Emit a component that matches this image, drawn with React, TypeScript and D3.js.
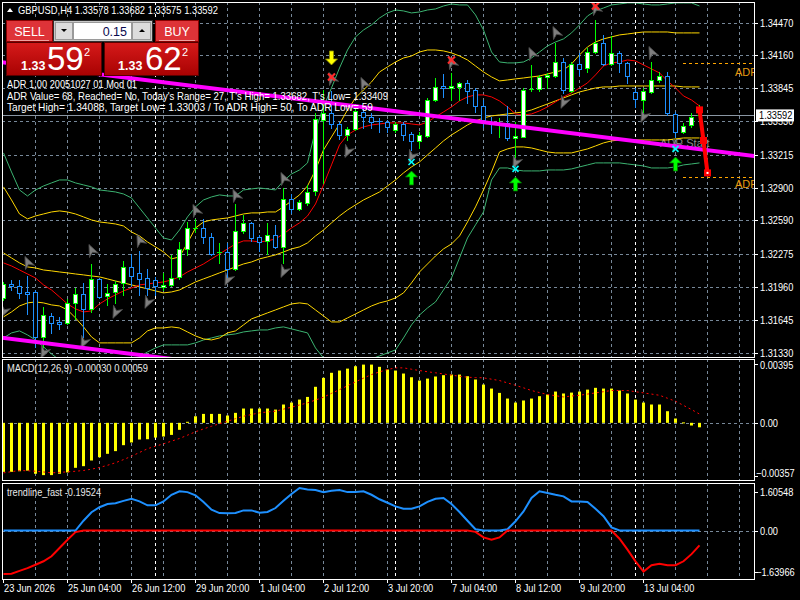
import React from 'react';
import * as d3 from 'd3';

// ---------- data (GBPUSD H4) ----------
const timeLabels = ['23 Jun 2026', '25 Jun 04:00', '26 Jun 12:00', '29 Jun 20:00', '1 Jul 04:00', '2 Jul 12:00',
  '3 Jul 20:00', '7 Jul 04:00', '8 Jul 12:00', '9 Jul 20:00', '13 Jul 04:00'];
const weekStartBars = [19, 49, 79];
const priceTicks = [1.3447, 1.3416, 1.33845, 1.3353, 1.33215, 1.329, 1.3259, 1.32275, 1.3196, 1.31645, 1.3133];
const macdTicks = [0.00395, 0, -0.00357];
const trendTicks = [1.60548, 0, -1.63966];

const opens = [1.31853,1.31986,1.31967,1.31910,1.31910,1.31482,1.31682,1.31625,1.31615,1.31805,
  1.31891,1.31748,1.32033,1.31872,1.31910,1.31995,1.32147,1.32090,1.32043,1.32024,
  1.31960,1.31976,1.32052,1.32318,1.32510,1.32518,1.32432,1.32276,1.32290,1.32128,
  1.32489,1.32565,1.32432,1.32394,1.32451,1.32337,1.32793,1.32698,1.32755,1.32869,
  1.33544,1.33610,1.33506,1.33401,1.33458,1.33620,1.33572,1.33530,1.33525,1.33449,
  1.33506,1.33411,1.33344,1.33392,1.33734,1.33862,1.33852,1.33857,1.33895,1.33829,
  1.33677,1.33525,1.33501,1.33515,1.33373,1.33382,1.33824,1.33838,1.33952,1.33962,
  1.34095,1.33819,1.34076,1.34038,1.34190,1.34275,1.34076,1.34180,1.34085,1.33810,
  1.33734,1.33810,1.33924,1.33962,1.33601,1.33430,1.33496,1.33578];
const highs = [1.32005,1.32024,1.32024,1.32062,1.31929,1.31767,1.31710,1.31672,1.31843,1.31948,
  1.31995,1.32176,1.32043,1.31986,1.32014,1.32204,1.32271,1.32299,1.32128,1.32052,
  1.32090,1.32261,1.32385,1.32575,1.32603,1.32603,1.32470,1.32375,1.32375,1.32746,
  1.32641,1.32575,1.32451,1.32565,1.32546,1.32898,1.32841,1.32784,1.32926,1.33610,
  1.33829,1.33819,1.33525,1.33477,1.33667,1.33658,1.33610,1.33563,1.33544,1.33525,
  1.33525,1.33430,1.33430,1.33753,1.33943,1.33981,1.33990,1.33905,1.33924,1.33848,
  1.33734,1.33572,1.33563,1.33677,1.33525,1.33848,1.34066,1.33971,1.33990,1.34275,
  1.34133,1.34095,1.34180,1.34228,1.34494,1.34351,1.34342,1.34199,1.34095,1.33848,
  1.33848,1.34095,1.34000,1.34000,1.33620,1.33515,1.33610,1.33682];
const lows = [1.31834,1.31929,1.31853,1.31701,1.31387,1.31387,1.31520,1.31558,1.31606,1.31653,
  1.31482,1.31720,1.31853,1.31786,1.31805,1.31881,1.31976,1.31881,1.31881,1.31881,
  1.31929,1.31967,1.32033,1.32261,1.32480,1.32375,1.32261,1.32185,1.32052,1.32119,
  1.32470,1.32394,1.32299,1.32271,1.32328,1.32185,1.32660,1.32689,1.32736,1.32831,
  1.32945,1.33468,1.33363,1.33354,1.33449,1.33468,1.33468,1.33430,1.33430,1.33430,
  1.33354,1.33259,1.33278,1.33382,1.33724,1.33762,1.33734,1.33734,1.33705,1.33620,
  1.33477,1.33420,1.33382,1.33354,1.33192,1.33378,1.33819,1.33819,1.33848,1.33952,
  1.33800,1.33810,1.33971,1.34000,1.34180,1.34066,1.34066,1.34000,1.33895,1.33667,
  1.33620,1.33800,1.33905,1.33591,1.33382,1.33420,1.33477,1.33575];
const closes = [1.31986,1.31967,1.31900,1.31891,1.31482,1.31691,1.31615,1.31606,1.31805,1.31891,
  1.31748,1.32033,1.31862,1.31900,1.31986,1.32147,1.32062,1.32033,1.31948,1.31967,
  1.31972,1.32043,1.32318,1.32518,1.32520,1.32432,1.32271,1.32286,1.32128,1.32489,
  1.32565,1.32423,1.32385,1.32451,1.32337,1.32793,1.32698,1.32765,1.32860,1.33553,
  1.33610,1.33506,1.33401,1.33458,1.33629,1.33572,1.33525,1.33520,1.33477,1.33506,
  1.33401,1.33344,1.33401,1.33734,1.33857,1.33852,1.33862,1.33895,1.33819,1.33677,
  1.33544,1.33506,1.33511,1.33373,1.33392,1.33829,1.33834,1.33952,1.33971,1.34095,
  1.33829,1.34076,1.34028,1.34190,1.34275,1.34076,1.34180,1.34085,1.33962,1.33743,
  1.33819,1.33924,1.33962,1.33610,1.33430,1.33487,1.33572,1.33592];

const fastMa = [1.32186,1.32157,1.32119,1.32081,1.32043,1.31977,1.31929,1.31863,1.31796,1.31749,
  1.31720,1.31730,1.31796,1.31844,1.31882,1.31920,1.31948,1.31977,1.31986,1.31996,
  1.32005,1.32024,1.32053,1.32100,1.32138,1.32176,1.32224,1.32271,1.32319,1.32366,
  1.32395,1.32395,1.32385,1.32395,1.32414,1.32461,1.32518,1.32566,1.32632,1.32746,
  1.32927,1.33117,1.33307,1.33402,1.33449,1.33478,1.33497,1.33506,1.33516,1.33516,
  1.33516,1.33506,1.33497,1.33525,1.33573,1.33620,1.33668,1.33725,1.33763,1.33782,
  1.33782,1.33763,1.33725,1.33668,1.33601,1.33592,1.33601,1.33630,1.33668,1.33715,
  1.33763,1.33801,1.33848,1.33896,1.33972,1.34057,1.34086,1.34095,1.34114,1.34105,
  1.34067,1.34029,1.33991,1.33915,1.33848,1.33772,1.33734,1.33677];
const slowMa = [1.32281,1.32233,1.32186,1.32148,1.32138,1.32119,1.32110,1.32100,1.32091,1.32081,
  1.32072,1.32062,1.32053,1.32034,1.32014,1.31996,1.31977,1.31958,1.31939,1.31920,
  1.31901,1.31910,1.31929,1.31967,1.32005,1.32034,1.32062,1.32091,1.32119,1.32148,
  1.32176,1.32195,1.32224,1.32243,1.32262,1.32290,1.32319,1.32338,1.32376,1.32442,
  1.32499,1.32566,1.32632,1.32689,1.32737,1.32784,1.32822,1.32860,1.32917,1.32974,
  1.33041,1.33098,1.33145,1.33212,1.33278,1.33345,1.33402,1.33449,1.33497,1.33535,
  1.33563,1.33582,1.33592,1.33601,1.33611,1.33620,1.33639,1.33668,1.33696,1.33725,
  1.33753,1.33782,1.33810,1.33829,1.33848,1.33858,1.33858,1.33867,1.33867,1.33867,
  1.33867,1.33867,1.33867,1.33867,1.33867,1.33858,1.33858,1.33858];
const yellowUpper = [1.32908,1.32784,1.32651,1.32604,1.32632,1.32651,1.32670,1.32680,1.32670,1.32651,
  1.32623,1.32594,1.32575,1.32566,1.32556,1.32537,1.32480,1.32442,1.32385,1.32338,
  1.32290,1.32224,1.32243,1.32376,1.32518,1.32575,1.32594,1.32604,1.32613,1.32632,
  1.32651,1.32661,1.32661,1.32670,1.32670,1.32718,1.32775,1.32832,1.32917,1.33069,
  1.33259,1.33383,1.33506,1.33639,1.33753,1.33829,1.33905,1.34000,1.34048,1.34095,
  1.34133,1.34152,1.34190,1.34209,1.34209,1.34200,1.34181,1.34152,1.34114,1.34057,
  1.34000,1.33953,1.33915,1.33924,1.33934,1.33943,1.33953,1.33962,1.33981,1.34000,
  1.34019,1.34076,1.34162,1.34238,1.34285,1.34314,1.34333,1.34352,1.34361,1.34371,
  1.34380,1.34380,1.34380,1.34380,1.34371,1.34371,1.34371,1.34371];
const yellowLower = [1.31673,1.31720,1.31777,1.31806,1.31815,1.31806,1.31787,1.31777,1.31739,1.31663,
  1.31578,1.31483,1.31426,1.31426,1.31426,1.31426,1.31426,1.31473,1.31540,1.31568,
  1.31568,1.31578,1.31568,1.31530,1.31492,1.31464,1.31454,1.31473,1.31521,1.31540,
  1.31597,1.31654,1.31682,1.31711,1.31739,1.31768,1.31796,1.31806,1.31796,1.31739,
  1.31682,1.31625,1.31625,1.31663,1.31701,1.31739,1.31777,1.31806,1.31825,1.31853,
  1.31901,1.31996,1.32100,1.32176,1.32252,1.32319,1.32366,1.32442,1.32575,1.32718,
  1.32879,1.33050,1.33240,1.33269,1.33288,1.33288,1.33278,1.33259,1.33240,1.33231,
  1.33231,1.33231,1.33250,1.33269,1.33297,1.33326,1.33345,1.33354,1.33354,1.33354,
  1.33354,1.33354,1.33354,1.33354,1.33364,1.33373,1.33373,1.33373];
const greenUpper = [1.33231,1.33050,1.32879,1.32822,1.32879,1.32917,1.32946,1.32974,1.32974,1.32946,
  1.32927,1.32908,1.32879,1.32870,1.32860,1.32841,1.32803,1.32708,1.32613,1.32518,
  1.32423,1.32404,1.32499,1.32623,1.32718,1.32784,1.32813,1.32832,1.32822,1.32822,
  1.32879,1.32889,1.32898,1.32889,1.32879,1.32965,1.33031,1.33069,1.33136,1.33449,
  1.33668,1.33848,1.34038,1.34209,1.34333,1.34399,1.34447,1.34513,1.34561,1.34589,
  1.34580,1.34561,1.34570,1.34589,1.34599,1.34627,1.34646,1.34637,1.34637,1.34542,
  1.34399,1.34190,1.34095,1.34086,1.34086,1.34095,1.34133,1.34190,1.34247,1.34285,
  1.34314,1.34371,1.34447,1.34532,1.34580,1.34608,1.34637,1.34646,1.34656,1.34656,
  1.34646,1.34637,1.34637,1.34646,1.34656,1.34656,1.34656,1.34627];
const greenLower = [1.31473,1.31521,1.31540,1.31502,1.31454,1.31388,1.31321,1.31264,1.31207,1.31169,
  1.31141,1.31122,1.31112,1.31122,1.31150,1.31198,1.31245,1.31293,1.31340,1.31378,
  1.31407,1.31407,1.31407,1.31407,1.31426,1.31454,1.31473,1.31492,1.31502,1.31511,
  1.31530,1.31540,1.31549,1.31549,1.31568,1.31578,1.31559,1.31540,1.31521,1.31378,
  1.31283,1.31236,1.31226,1.31217,1.31226,1.31245,1.31274,1.31302,1.31331,1.31359,
  1.31473,1.31597,1.31691,1.31758,1.31815,1.31929,1.32043,1.32233,1.32423,1.32547,
  1.32670,1.32974,1.33088,1.33088,1.33069,1.33060,1.33060,1.33060,1.33069,1.33069,
  1.33069,1.33079,1.33098,1.33117,1.33136,1.33136,1.33136,1.33136,1.33126,1.33117,
  1.33107,1.33088,1.33088,1.33088,1.33098,1.33117,1.33126,1.33136];

const macdHist = [-0.00329,-0.00329,-0.00325,-0.00321,-0.00342,-0.00351,-0.00351,-0.00342,-0.00333,-0.00302,
  -0.00291,-0.00253,-0.00231,-0.00208,-0.00190,-0.00150,-0.00132,-0.00112,-0.00110,-0.00099,
  -0.00092,-0.00081,-0.00047,0.00007,0.00044,0.00060,0.00060,0.00060,0.00049,0.00067,
  0.00096,0.00096,0.00096,0.00096,0.00089,0.00123,0.00136,0.00156,0.00174,0.00242,
  0.00302,0.00336,0.00351,0.00364,0.00380,0.00391,0.00391,0.00376,0.00358,0.00351,
  0.00331,0.00306,0.00284,0.00297,0.00311,0.00320,0.00324,0.00324,0.00313,0.00291,
  0.00257,0.00230,0.00201,0.00163,0.00136,0.00150,0.00163,0.00179,0.00190,0.00210,
  0.00197,0.00203,0.00210,0.00223,0.00235,0.00230,0.00230,0.00217,0.00197,0.00156,
  0.00136,0.00123,0.00123,0.00078,0.00029,0.00003,-0.00018,-0.00030];
const macdSignal = [-0.00336,-0.00328,-0.00320,-0.00322,-0.00325,-0.00330,-0.00336,-0.00333,-0.00329,-0.00325,
  -0.00320,-0.00311,-0.00300,-0.00285,-0.00268,-0.00247,-0.00224,-0.00199,-0.00174,-0.00157,
  -0.00141,-0.00123,-0.00105,-0.00083,-0.00060,-0.00041,-0.00023,-0.00006,0.00011,0.00028,
  0.00044,0.00056,0.00067,0.00073,0.00078,0.00092,0.00105,0.00120,0.00134,0.00153,
  0.00172,0.00198,0.00223,0.00249,0.00275,0.00300,0.00324,0.00342,0.00358,0.00369,
  0.00369,0.00360,0.00351,0.00343,0.00336,0.00328,0.00320,0.00313,0.00306,0.00304,
  0.00302,0.00293,0.00284,0.00268,0.00252,0.00235,0.00217,0.00203,0.00190,0.00182,
  0.00174,0.00180,0.00185,0.00193,0.00201,0.00209,0.00217,0.00217,0.00217,0.00209,
  0.00201,0.00193,0.00185,0.00165,0.00145,0.00117,0.00089,0.00059];

const trendUp = [0,0,0,0,0,0,0,0,0,0,
  0.37,0.69,0.88,1.00,1.03,1.12,1.20,1.10,0.95,0.95,
  1.10,1.35,1.48,1.45,1.33,1.08,0.79,0.66,0.65,0.66,
  0.76,0.76,0.67,0.70,0.85,1.12,1.38,1.60548,1.55,1.53,
  1.45,1.50,1.53,1.45,1.45,1.48,1.35,1.18,1.05,0.91,
  0.82,0.82,0.91,1.08,1.20,1.23,1.00,0.70,0.37,0.05,
  0,0,0,0.05,0.35,0.72,1.23,1.48,1.42,1.35,
  1.29,1.10,1.10,1.08,0.82,0.54,0.12,0,0,0,
  0,0,0,0,0,0,0,0];
const trendDown = [-1.63966,-1.63,-1.52,-1.42,-1.29,-1.16,-0.97,-0.66,-0.35,-0.06,
  0,0,0,0,0,0,0,0,0,0,
  0,0,0,0,0,0,0,0,0,0,
  0,0,0,0,0,0,0,0,0,0,
  0,0,0,0,0,0,0,0,0,0,
  0,0,0,0,0,0,0,0,0,-0.05,
  -0.26,-0.35,-0.26,0,0,0,0,0,0,0,
  0,0,0,0,0,0,0,-0.31,-0.72,-1.16,
  -1.55,-1.31,-1.25,-1.31,-1.31,-1.16,-0.89,-0.56];

// signal markers: [bar, price]
const fractalUp = [[3, 1.32195], [11, 1.32309], [17, 1.32404], [24, 1.32689], [29, 1.32832], [35, 1.32993],
  [41, 1.33943], [45, 1.33896], [56, 1.34095], [66, 1.34180], [69, 1.34380], [74, 1.34608], [81, 1.34190]];
const fractalDown = [[0, 1.31720], [5, 1.31331], [10, 1.31426], [14, 1.31711], [18, 1.31806], [28, 1.32024],
  [35, 1.32100], [43, 1.33240], [51, 1.33193], [64, 1.33136], [70, 1.33706], [80, 1.33573], [84, 1.33288]];
const sellCrosses = [[41, 1.33953], [56, 1.34114], [74, 1.34627]];
const sellArrows = [[41, 1.34133]];
const buyCrosses = [[51, 1.33145], [64, 1.33079], [84, 1.33269]];
const buyArrows = [[51, 1.32993], [64, 1.32936], [84, 1.33126]];

const channelTop = [[0, 1.34091], [87, 1.33267]];
const channelBottom = [[0, 1.31473], [18, 1.31302]];
const adrTargets = [1.34088, 1.33003];
const adrPath = [[87, 1.33640], [87.5, 1.33349], [88, 1.33041]];
const bidPrice = 1.33592;

const infoLines = ['ADR 1,00 20051027 01 Mod 01',
  "ADR Value= 68, Reached= No, Today's Range= 27, T's High= 1.33682, T's Low= 1.33409",
  'Target High= 1.34088, Target Low= 1.33003 / To ADR High= 50, To ADR Low= 59'];

// ---------- layout ----------
const FONT = '"Liberation Sans", Arial, sans-serif';
const L = 2, R = 754;
const mainP = { top: 2, bottom: 357 };
const macdP = { top: 359, bottom: 480 };
const trendP = { top: 483, bottom: 579 };
const GRID = '#778899';

const xs = d3.scaleLinear().domain([0, 87]).range([3.5, 699.5]);
const yP = d3.scaleLinear().domain([1.3133, 1.3447]).range([353, 22.5]);
const yM = d3.scaleLinear().domain([-0.00357, 0.00395]).range([476, 364]);
const yT = d3.scaleLinear().domain([-1.63966, 1.60548]).range([574, 488]);

function Txt({ x, y, children, size = 10.5, fill = '#fff', anchor = 'start', sx = 0.88, len }: any) {
  return (
    <text transform={`translate(${x},${y}) scale(${sx},1)`} fontSize={size} fill={fill}
      textAnchor={anchor} fontFamily={FONT} textLength={len} lengthAdjust={len ? 'spacingAndGlyphs' : undefined}>
      {children}
    </text>
  );
}

const linePath = (vals: number[], y: any) =>
  d3.line<number>().x((_, i) => xs(i)).y((d) => y(d))(vals) || '';

function VGrid({ top, bottom }: { top: number; bottom: number }) {
  return (
    <g>
      {d3.range(4, 93, 4).map((b) => (
        <line key={b} x1={xs(b)} x2={xs(b)} y1={top} y2={bottom} stroke={GRID} strokeDasharray="3,3" />
      ))}
      {weekStartBars.map((b) => (
        <line key={'w' + b} x1={xs(b)} x2={xs(b)} y1={top} y2={bottom} stroke="#fff" strokeDasharray="3,3" />
      ))}
    </g>
  );
}

export default function App() {
  const tickFmt = d3.format('.5f');
  const arrowUp = 'M0,-7 L6,-1 L2,-1 L2,7 L-2,7 L-2,-1 L-6,-1 Z';
  const chevUp = 'M0,-6 L5,6 L0,2.5 L-5,6 Z';
  const chevDown = 'M0,6 L5,-6 L0,-2.5 L-5,-6 Z';
  const chanLine = (pts: number[][], x0: number, x1: number) => {
    const s = (pts[1][1] - pts[0][1]) / (pts[1][0] - pts[0][0]);
    return { x1: xs(x0), y1: yP(pts[0][1] + s * (x0 - pts[0][0])), x2: xs(x1), y2: yP(pts[0][1] + s * (x1 - pts[0][0])) };
  };
  const ct = chanLine(channelTop, -1, 95);
  const cb = chanLine(channelBottom, -1, 40);

  return (
    <svg width={800} height={600} style={{ position: 'absolute', left: 0, top: 0, background: '#000' }}>
      <defs>
        <clipPath id="cMain"><rect x={L} y={mainP.top} width={R - L} height={mainP.bottom - mainP.top} /></clipPath>
        <clipPath id="cMacd"><rect x={L} y={macdP.top} width={R - L} height={macdP.bottom - macdP.top} /></clipPath>
        <clipPath id="cTrend"><rect x={L} y={trendP.top} width={R - L} height={trendP.bottom - trendP.top} /></clipPath>
        <linearGradient id="bigRed" x1="0" y1="0" x2="0" y2="1">
          <stop offset="0" stopColor="#d61a1a" />
          <stop offset="1" stopColor="#a80202" />
        </linearGradient>
      </defs>
      <rect width={800} height={600} fill="#000" />

      {/* ---------- main price panel ---------- */}
      <g clipPath="url(#cMain)">
        {priceTicks.map((p) => (
          <line key={p} x1={L} x2={R} y1={Math.round(yP(p)) + 0.5} y2={Math.round(yP(p)) + 0.5} stroke={GRID} strokeDasharray="3,3" />
        ))}
        <VGrid top={mainP.top} bottom={mainP.bottom} />

        <line x1={L} x2={R} y1={Math.round(yP(bidPrice)) + 0.5} y2={Math.round(yP(bidPrice)) + 0.5} stroke="#8a96a3" />

        <text x={660} y={147} fontSize={11} fill="#8c8c8c" fontFamily={FONT}>ADR Start</text>

        <g fill="none" strokeWidth={1}>
          <path d={linePath(greenUpper, yP)} stroke="#3cb371" />
          <path d={linePath(greenLower, yP)} stroke="#3cb371" />
          <path d={linePath(yellowUpper, yP)} stroke="#ffd700" />
          <path d={linePath(yellowLower, yP)} stroke="#ffd700" />
          <path d={linePath(slowMa, yP)} stroke="#ffd700" />
          <path d={linePath(fastMa, yP)} stroke="#ff0000" />
        </g>

        {adrTargets.map((p) => (
          <line key={p} x1={683} x2={R} y1={Math.round(yP(p)) + 0.5} y2={Math.round(yP(p)) + 0.5} stroke="#ffa500" strokeDasharray="3,3" />
        ))}
        {adrTargets.map((p, i) => (
          <text key={'t' + p} x={735} y={yP(p) + (i === 0 ? 13 : 11)} fontSize={11} fill="#e89a10" fontFamily={FONT}>ADR</text>
        ))}

        {fractalUp.map(([b, p]) => (
          <path key={'fu' + b} d={chevUp} transform={`translate(${xs(b)},${yP(p)}) rotate(-25)`} fill="#7f7f7f" stroke="#4d4d4d" strokeWidth={0.8} />
        ))}
        {fractalDown.map(([b, p]) => (
          <path key={'fd' + b} d={chevDown} transform={`translate(${xs(b)},${yP(p)}) rotate(25)`} fill="#7f7f7f" stroke="#4d4d4d" strokeWidth={0.8} />
        ))}

        {/* candles */}
        {opens.map((o, i) => {
          const c = closes[i];
          const bull = c >= o;
          const col = bull ? '#00ff00' : '#1e90ff';
          const x = xs(i);
          const yTop = Math.round(yP(Math.max(o, c)));
          const yBot = Math.round(yP(Math.min(o, c)));
          return (
            <g key={i}>
              <line x1={x} x2={x} y1={Math.round(yP(highs[i]))} y2={Math.round(yP(lows[i])) + 1} stroke={col} />
              {yBot - yTop < 2 ? (
                <line x1={x - 2.5} x2={x + 2.5} y1={yTop + 0.5} y2={yTop + 0.5} stroke={col} />
              ) : (
                <rect x={x - 2} y={yTop + 0.5} width={4} height={yBot - yTop} fill={bull ? '#fff' : '#000'} stroke={col} />
              )}
            </g>
          );
        })}

        <line {...ct} stroke="#ff00ff" strokeWidth={4} />
        <line {...cb} stroke="#ff00ff" strokeWidth={4} />

        {sellCrosses.map(([b, p]) => (
          <g key={'sx' + b} transform={`translate(${xs(b)},${yP(p)})`} stroke="#ff2a2a" strokeWidth={2.2}>
            <line x1={-3.5} y1={-3.5} x2={3.5} y2={3.5} />
            <line x1={-3.5} y1={3.5} x2={3.5} y2={-3.5} />
          </g>
        ))}
        {buyCrosses.map(([b, p]) => (
          <g key={'bx' + b} transform={`translate(${xs(b)},${yP(p)})`} stroke="#00ffff" strokeWidth={1.6}>
            <line x1={-3} y1={-3} x2={3} y2={3} />
            <line x1={-3} y1={3} x2={3} y2={-3} />
          </g>
        ))}
        {buyArrows.map(([b, p]) => (
          <path key={'ba' + b} d={arrowUp} transform={`translate(${xs(b)},${yP(p)})`} fill="#00ff00" stroke="#007a00" strokeWidth={0.8} />
        ))}
        {sellArrows.map(([b, p]) => (
          <path key={'sa' + b} d={arrowUp} transform={`translate(${xs(b)},${yP(p)}) rotate(180)`} fill="#ffff00" stroke="#8a8a00" strokeWidth={0.8} />
        ))}

        <path d={d3.line<number[]>().x((d) => xs(d[0])).y((d) => yP(d[1]))(adrPath) || ''} stroke="#ff0000" strokeWidth={4} fill="none" />
        {adrPath.map(([b, p], i) => (
          <rect key={'ap' + i} x={xs(b) - 3.5} y={yP(p) - 3.5} width={7} height={7} fill="#ff0000" />
        ))}
        <rect x={xs(adrPath[2][0]) - 1} y={yP(adrPath[2][1]) - 1} width={2} height={2} fill="#fff" />
      </g>

      {/* info text */}
      <path d="M7,12 L10,8 L13,12 Z" fill="#fff" />
      <Txt x={18} y={14} len={200} sx={1}>GBPUSD,H4  1.33578 1.33682 1.33575 1.33592</Txt>
      {infoLines.map((t, i) => (
        <Txt key={i} x={7} y={88 + i * 11.7} len={[130, 381, 366][i]} sx={1}>{t}</Txt>
      ))}

      {/* one click trading panel */}
      <g fontFamily={FONT}>
        <rect x={6.5} y={20.5} width={46} height={21} fill="#de3338" stroke="#8a0000" />
        <line x1={10} x2={49} y1={40.5} y2={40.5} stroke="#f2a0a0" />
        <text x={29.5} y={36} fontSize={12.5} fill="#fff" textAnchor="middle">SELL</text>
        <rect x={155.5} y={20.5} width={43} height={21} fill="#de3338" stroke="#8a0000" />
        <line x1={159} x2={195} y1={40.5} y2={40.5} stroke="#f2a0a0" />
        <text x={177} y={36} fontSize={12.5} fill="#fff" textAnchor="middle">BUY</text>
        <rect x={53.5} y={20.5} width={99} height={21} fill="#c8c8c8" stroke="#303030" />
        <rect x={55.5} y={22.5} width={17} height={17} fill="#dcdcdc" stroke="#9a9a9a" />
        <rect x={73.5} y={22.5} width={58} height={17} fill="#fff" stroke="#9a9a9a" />
        <rect x={132.5} y={22.5} width={18} height={17} fill="#dcdcdc" stroke="#9a9a9a" />
        <path d="M61,29 L67,29 L64,32 Z" fill="#000" />
        <path d="M139,32 L145,32 L142,29 Z" fill="#000" />
        <text x={127} y={36} fontSize={12.5} fill="#0a0a50" textAnchor="end">0.15</text>
        <rect x={6.5} y={42.5} width={95} height={33} fill="url(#bigRed)" stroke="#5a0000" />
        <rect x={104.5} y={42.5} width={94} height={33} fill="url(#bigRed)" stroke="#5a0000" />
        <text x={21} y={70} fontSize={12.5} fill="#fff" fontWeight="bold">1.33</text>
        <text x={47} y={70} fontSize={33} fill="#fff">59</text>
        <text x={84} y={56} fontSize={11} fill="#fff">2</text>
        <text x={118} y={70} fontSize={12.5} fill="#fff" fontWeight="bold">1.33</text>
        <text x={145} y={70} fontSize={33} fill="#fff">62</text>
        <text x={182} y={56} fontSize={11} fill="#fff">2</text>
      </g>

      {/* ---------- MACD panel ---------- */}
      <g clipPath="url(#cMacd)">
        <VGrid top={macdP.top} bottom={macdP.bottom} />
        <line x1={L} x2={R} y1={Math.round(yM(0)) + 0.5} y2={Math.round(yM(0)) + 0.5} stroke={GRID} strokeDasharray="3,3" />
        {macdHist.map((v, i) => (
          <rect key={i} x={xs(i) - 1.5} y={Math.min(yM(v), yM(0))} width={3} height={Math.max(1, Math.abs(yM(v) - yM(0)))} fill="#ffff00" />
        ))}
        <path d={linePath(macdSignal, yM)} stroke="#ff0000" strokeWidth={1} strokeDasharray="2,3" fill="none" />
      </g>
      <Txt x={7} y={372} len={141} sx={1} fill="#e8e8e8">MACD(12,26,9) -0.00030 0.00059</Txt>

      {/* ---------- trend panel ---------- */}
      <g clipPath="url(#cTrend)">
        <VGrid top={trendP.top} bottom={trendP.bottom} />
        <line x1={L} x2={R} y1={Math.round(yT(0)) + 0.5} y2={Math.round(yT(0)) + 0.5} stroke={GRID} strokeDasharray="3,3" />
        <path d={linePath(trendUp, yT)} stroke="#1e90ff" strokeWidth={2} fill="none" />
        <path d={linePath(trendDown, yT)} stroke="#ff0000" strokeWidth={2} fill="none" />
      </g>
      <Txt x={7} y={496} len={94} sx={1} fill="#e8e8e8">trendline_fast -0.19524</Txt>

      {/* ---------- frames ---------- */}
      <g fill="none" stroke="#fff">
        <rect x={L + 0.5} y={mainP.top + 0.5} width={R - L} height={mainP.bottom - mainP.top} />
        <rect x={L + 0.5} y={macdP.top + 0.5} width={R - L} height={macdP.bottom - macdP.top} />
        <rect x={L + 0.5} y={trendP.top + 0.5} width={R - L} height={trendP.bottom - trendP.top} />
      </g>

      {/* ---------- right axes ---------- */}
      {priceTicks.map((p) => (
        <g key={p}>
          <line x1={R} x2={R + 4} y1={Math.round(yP(p)) + 0.5} y2={Math.round(yP(p)) + 0.5} stroke="#fff" />
          <Txt x={760} y={yP(p) + 4}>{tickFmt(p)}</Txt>
        </g>
      ))}
      <rect x={756} y={yP(bidPrice) - 5.5} width={38} height={12} fill="#fff" />
      <Txt x={759} y={yP(bidPrice) + 4.5} fill="#000">{tickFmt(bidPrice)}</Txt>

      {macdTicks.map((v) => {
        const y = Math.min(Math.max(yM(v), macdP.top + 6), macdP.bottom - 7);
        return (
          <g key={v}>
            <line x1={R} x2={R + 4} y1={Math.round(yM(v)) + 0.5} y2={Math.round(yM(v)) + 0.5} stroke="#fff" />
            <Txt x={v < 0 ? 756 : 760} y={y + 4}>{v === 0 ? '0.00' : tickFmt(v)}</Txt>
          </g>
        );
      })}
      {trendTicks.map((v) => {
        const y = Math.min(Math.max(yT(v), trendP.top + 9), trendP.bottom - 7);
        return (
          <g key={v}>
            <line x1={R} x2={R + 4} y1={Math.round(y) + 0.5} y2={Math.round(y) + 0.5} stroke="#fff" />
            <Txt x={v < 0 ? 756 : 760} y={y + 4}>{v === 0 ? '0.00' : tickFmt(v)}</Txt>
          </g>
        );
      })}

      {/* ---------- time axis ---------- */}
      {timeLabels.map((t, k) => (
        <g key={t}>
          <line x1={xs(k * 8)} x2={xs(k * 8)} y1={trendP.bottom} y2={trendP.bottom + 4} stroke="#fff" />
          <Txt x={xs(k * 8) + 0.5} y={592}>{t}</Txt>
        </g>
      ))}
    </svg>
  );
}
